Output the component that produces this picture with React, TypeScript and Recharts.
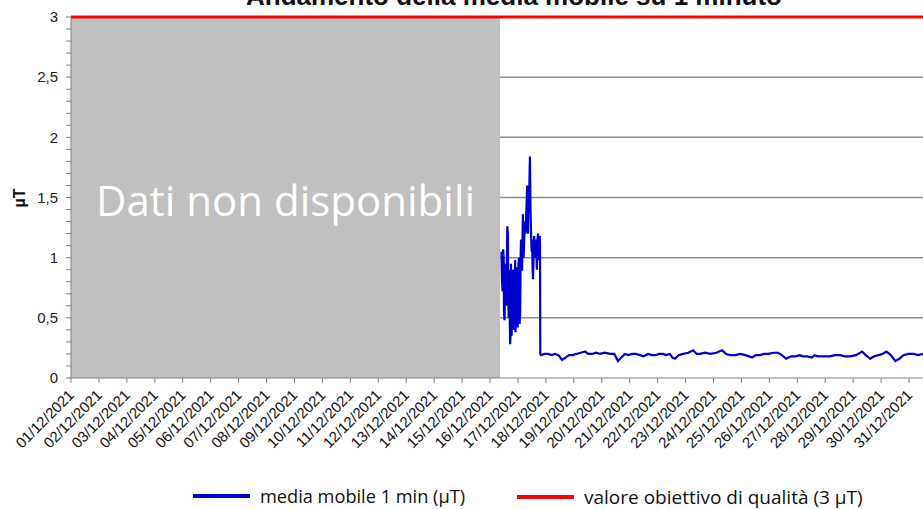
import React from "react";
import { ComposedChart, Line, XAxis, YAxis, CartesianGrid, ReferenceArea } from "recharts";

// giorni dal 01/12/2021 (0 = 01/12)
const dateLabels = [
  "01/12/2021", "02/12/2021", "03/12/2021", "04/12/2021", "05/12/2021", "06/12/2021",
  "07/12/2021", "08/12/2021", "09/12/2021", "10/12/2021", "11/12/2021", "12/12/2021",
  "13/12/2021", "14/12/2021", "15/12/2021", "16/12/2021", "17/12/2021", "18/12/2021",
  "19/12/2021", "20/12/2021", "21/12/2021", "22/12/2021", "23/12/2021", "24/12/2021",
  "25/12/2021", "26/12/2021", "27/12/2021", "28/12/2021", "29/12/2021", "30/12/2021",
  "31/12/2021",
];

const mediaDays = [
  15.41, 15.43, 15.45, 15.47, 15.49, 15.5, 15.52, 15.54, 15.56, 15.57, 15.59, 15.61,
  15.62, 15.64, 15.65, 15.67, 15.68, 15.7, 15.72, 15.74, 15.75, 15.77, 15.79, 15.81,
  15.83, 15.84, 15.86, 15.88, 15.9, 15.91, 15.93, 15.95, 15.97, 15.99, 16.0, 16.02,
  16.04, 16.06, 16.08, 16.1, 16.11, 16.13, 16.15, 16.17, 16.18, 16.2, 16.22, 16.24,
  16.26, 16.27, 16.29, 16.31, 16.33, 16.35, 16.36, 16.38, 16.4, 16.42, 16.43, 16.45,
  16.47, 16.49, 16.51, 16.52, 16.54, 16.56, 16.58, 16.59, 16.61, 16.63, 16.65, 16.67,
  16.68, 16.7, 16.72, 16.74, 16.76, 16.78, 16.79, 16.8,
  16.83, 16.95, 17.08, 17.2, 17.33, 17.45, 17.58, 17.7, 17.83, 17.95, 18.08, 18.25,
  18.4, 18.52, 18.65, 18.8, 18.94, 19.1, 19.3, 19.45, 19.58, 19.7, 19.83, 19.95,
  20.08, 20.22, 20.37, 20.5, 20.66, 20.8, 20.94, 21.05, 21.19, 21.3, 21.44, 21.53,
  21.62, 21.75, 21.91, 22.1, 22.27, 22.4, 22.52, 22.7, 22.88, 23.1, 23.31, 23.45,
  23.6, 23.78, 23.95, 24.15, 24.38, 24.52, 24.67, 24.8, 24.96, 25.15, 25.31, 25.45,
  25.6, 25.78, 25.95, 26.08, 26.2, 26.35, 26.52, 26.62, 26.74, 26.95, 27.17, 27.35,
  27.53, 27.7, 27.89, 28.1, 28.32, 28.45, 28.61, 28.75, 28.9, 29.05, 29.19, 29.35,
  29.51, 29.65, 29.8, 29.98, 30.16, 30.33, 30.5,
];
const mediaValues = [
  1.05, 0.8, 0.72, 1.07, 1.0, 0.55, 0.48, 0.9, 0.95, 0.7, 0.6, 1.1,
  1.26, 1.2, 0.7, 0.5, 0.9, 0.6, 0.28, 0.4, 0.95, 0.35, 0.45, 0.9,
  0.85, 0.5, 0.4, 0.75, 0.98, 0.38, 0.45, 0.88, 0.92, 0.42, 0.5, 0.95,
  1.0, 0.45, 0.55, 1.05, 1.15, 0.9, 0.9, 1.25, 1.36, 1.0, 1.1, 1.3,
  1.25, 1.2, 1.3, 1.45, 1.6, 1.3, 1.2, 1.55, 1.5, 1.75, 1.84, 1.4,
  1.19, 1.05, 1.15, 0.95, 0.82, 1.0, 1.18, 1.05, 1.0, 1.12, 1.15, 0.95,
  0.9, 1.15, 1.2, 0.98, 1.05, 1.18, 1.1, 0.2,
  0.19, 0.2, 0.2, 0.19, 0.2, 0.19, 0.15, 0.17, 0.19, 0.19, 0.2, 0.21,
  0.22, 0.2, 0.2, 0.21, 0.2, 0.21, 0.2, 0.2, 0.14, 0.17, 0.2, 0.19,
  0.2, 0.2, 0.19, 0.18, 0.2, 0.19, 0.19, 0.2, 0.2, 0.19, 0.2, 0.17,
  0.16, 0.19, 0.2, 0.21, 0.23, 0.2, 0.2, 0.21, 0.2, 0.21, 0.23, 0.2,
  0.19, 0.19, 0.2, 0.19, 0.17, 0.19, 0.19, 0.2, 0.2, 0.21, 0.21, 0.19,
  0.16, 0.18, 0.18, 0.19, 0.18, 0.18, 0.17, 0.19, 0.18, 0.18, 0.18, 0.19,
  0.19, 0.18, 0.18, 0.19, 0.22, 0.19, 0.16, 0.18, 0.19, 0.2, 0.22, 0.19,
  0.14, 0.16, 0.19, 0.2, 0.2, 0.19, 0.2,
];

const obiettivoDays = [0, 30.5];
const obiettivoValues = [3, 3];

const noDataEnd = 15.36;

const mediaData = mediaDays.map((d, i) => ({ day: d, media: mediaValues[i] }));
const obiettivoData = obiettivoDays.map((d, i) => ({ day: d, obiettivo: obiettivoValues[i] }));

const yTicks = Array.from({ length: 31 }, (_, i) => +(i * 0.1).toFixed(1));
const xTicks = dateLabels.map((_, i) => i);

function fmtY(v: number): string {
  if (Math.abs(v * 2 - Math.round(v * 2)) > 1e-6) return "";
  return String(v).replace(".", ",");
}

function DateTick(props: any) {
  const { x, y, payload } = props;
  return (
    <text
      x={x + 4}
      y={y + 11}
      transform={`rotate(-45, ${x + 4}, ${y + 11})`}
      textAnchor="end"
      fontSize={15}
      fontFamily="Liberation Sans, Arial, sans-serif"
      fill="#111"
    >
      {dateLabels[payload.value]}
    </text>
  );
}

const legendItems = [
  { label: "media mobile 1 min (µT)", color: "#0000CC", left: 193, size: 18.2 },
  { label: "valore obiettivo di qualità (3 µT)", color: "#FF0000", left: 517, size: 19 },
];

export default function App() {
  return (
    <div style={{ position: "fixed", left: 0, top: 0, width: 923, height: 509, overflow: "hidden", background: "#fff" }}>
      <div
        style={{
          position: "absolute", top: -19, left: 0, width: 1028, textAlign: "center",
          fontFamily: "Liberation Sans, Arial, sans-serif", fontWeight: 700, fontSize: 26, color: "#111",
        }}
      >
        Andamento della media mobile su 1 minuto
      </div>
      <ComposedChart width={923} height={509} margin={{ top: 17, right: 0, bottom: 51, left: 31 }}>
        <CartesianGrid horizontal vertical={false} horizontalValues={[0.5, 1, 1.5, 2, 2.5, 3]} stroke="#8c8c8c" strokeWidth={1.5} />
        <XAxis
          dataKey="day"
          type="number"
          domain={[0, 30.5]}
          ticks={xTicks}
          interval={0}
          allowDataOverflow
          tick={<DateTick />}
          tickSize={5}
          stroke="#808080"
          height={80}
        />
        <YAxis
          type="number"
          domain={[0, 3]}
          ticks={yTicks}
          interval={0}
          tickFormatter={fmtY}
          tickSize={5}
          tickMargin={8}
          width={40}
          stroke="#808080"
          tick={{ fill: "#222", fontSize: 15, fontFamily: "Liberation Sans, Arial, sans-serif" }}
          label={{ value: "µT", angle: -90, position: "insideLeft", offset: -12, dy: 10, fill: "#111", fontSize: 16, fontWeight: 700, fontFamily: "Liberation Sans, Arial, sans-serif" }}
        />
        <ReferenceArea
          x1={0}
          x2={noDataEnd}
          y1={0}
          y2={3}
          fill="#C0C0C0"
          fillOpacity={1}
          stroke="none"
          label={{ value: "Dati non disponibili", position: "center", fill: "#fff", fontSize: 42, fontFamily: "Open Sans, sans-serif", dy: 4 }}
        />
        <Line data={mediaData} dataKey="media" type="linear" stroke="#0000CC" strokeWidth={2.2} dot={false} isAnimationActive={false} />
        <Line data={obiettivoData} dataKey="obiettivo" type="linear" stroke="#FF0000" strokeWidth={3} dot={false} isAnimationActive={false} />
      </ComposedChart>
      {legendItems.map((it) => (
        <div key={it.label} style={{ position: "absolute", left: it.left, top: 484, display: "flex", alignItems: "center" }}>
          <div style={{ width: 57, height: 4, background: it.color, marginRight: 10 }} />
          <span style={{ fontFamily: "Open Sans, sans-serif", fontSize: it.size, color: "#111", whiteSpace: "nowrap" }}>{it.label}</span>
        </div>
      ))}
    </div>
  );
}
